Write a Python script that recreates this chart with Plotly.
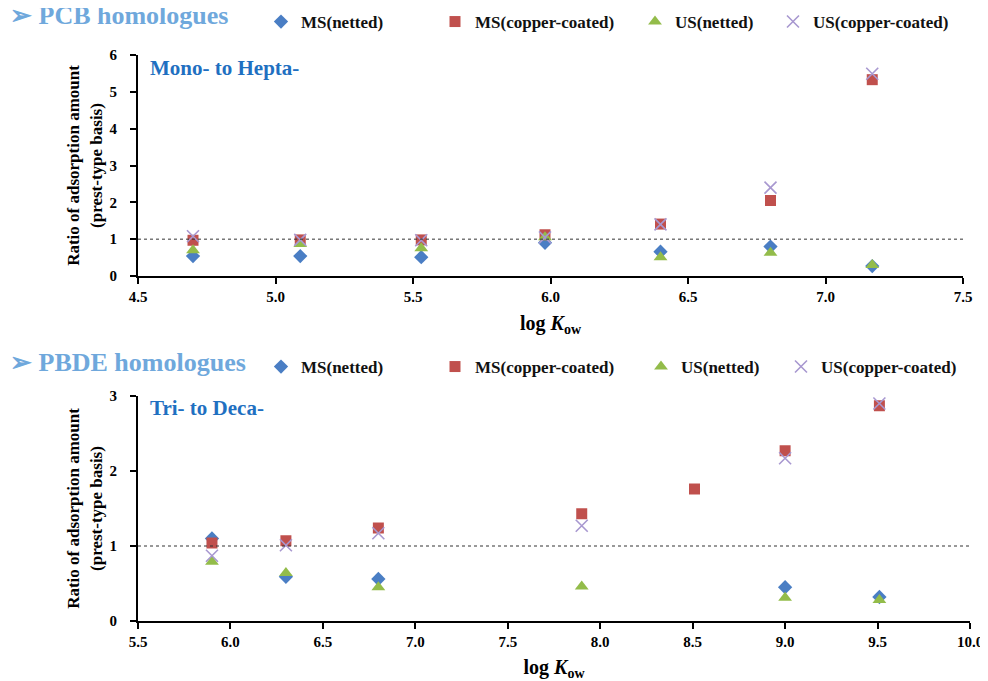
import plotly.graph_objects as go

# page body has an 8px default margin, so the figure is drawn 8px smaller and coordinates offset
OFF = 8
W, H = 988 - OFF, 681 - OFF

# ---------------- data ----------------
pcb_logkow = [4.70, 5.09, 5.53, 5.98, 6.40, 6.80, 7.17]
pcb_ms_netted = [0.54, 0.54, 0.51, 0.90, 0.66, 0.80, 0.27]
pcb_ms_copper = [0.97, 0.98, 0.98, 1.12, 1.41, 2.05, 5.33]
pcb_us_netted = [0.70, 0.87, 0.75, 1.05, 0.51, 0.63, 0.30]
pcb_us_copper = [1.08, 0.98, 0.97, 1.05, 1.40, 2.40, 5.49]

pbde_logkow = [5.90, 6.30, 6.80, 7.90, 8.51, 9.00, 9.51]
pbde_ms_netted = [1.10, 0.59, 0.56, None, None, 0.45, 0.32]
pbde_ms_copper = [1.04, 1.07, 1.24, 1.43, 1.76, 2.27, 2.87]
pbde_us_netted = [0.79, 0.64, 0.45, 0.46, None, 0.31, 0.28]
pbde_us_copper = [0.87, 1.01, 1.17, 1.27, None, 2.17, 2.90]

series_names = ["MS(netted)", "MS(copper-coated)", "US(netted)", "US(copper-coated)"]
pcb_xticks = [4.5, 5.0, 5.5, 6.0, 6.5, 7.0, 7.5]
pbde_xticks = [5.5, 6.0, 6.5, 7.0, 7.5, 8.0, 8.5, 9.0, 9.5, 10.0]

# ---------------- style ----------------
SERIF = "Liberation Serif, Times New Roman, serif"
styles = [
    dict(symbol="diamond", size=11, color="#4A7EC4"),
    dict(symbol="square", size=11, color="#C0504D"),
    dict(symbol="triangle-up", size=12, color="#93BC4A"),
    dict(symbol="x-thin-open", size=12, color="#A898D0", line=dict(width=1.6, color="#A898D0")),
]

def px_x(p):
    return (p - OFF) / W

def px_y(p):
    return 1 - (p - OFF) / H

fig = go.Figure()

top_legend_px = [283, 457, 657, 795]
bot_legend_px = [283, 457, 663, 803]

groups = [
    ("x", "y", pcb_logkow, [pcb_ms_netted, pcb_ms_copper, pcb_us_netted, pcb_us_copper], 1, top_legend_px, 22),
    ("x2", "y2", pbde_logkow, [pbde_ms_netted, pbde_ms_copper, pbde_us_netted, pbde_us_copper], 5, bot_legend_px, 367),
]

layout_legends = {}
for xa, ya, xs, ys_list, lstart, lpx, ly in groups:
    for i, (name, ys) in enumerate(zip(series_names, ys_list)):
        st = styles[i]
        mk = dict(symbol=st["symbol"], size=st["size"], color=st["color"])
        if "line" in st:
            mk["line"] = st["line"]
        lname = "legend" if (lstart + i) == 1 else f"legend{lstart + i}"
        fig.add_trace(go.Scatter(
            x=xs, y=ys, mode="markers", name=name, marker=mk,
            xaxis=xa, yaxis=ya, legend=lname, showlegend=True,
        ))
        layout_legends[lname] = dict(
            x=px_x(lpx[i] - 22), y=px_y(ly), xanchor="left", yanchor="middle",
            bgcolor="rgba(0,0,0,0)", borderwidth=0,
            font=dict(family=SERIF, size=17, color="#111111", weight="bold"),
            itemwidth=30, tracegroupgap=0,
        )

axis_common = dict(
    showline=True, linecolor="black", linewidth=2,
    ticks="outside", ticklen=6, tickwidth=2, tickcolor="black",
    showgrid=False, zeroline=False, mirror=False, automargin=False,
    tickfont=dict(family=SERIF, size=15, color="black", weight="bold"),
)

xtitle = dict(text="<b>log <i>K</i><sub>ow</sub></b>", font=dict(family=SERIF, size=20, color="black"), standoff=12)
ytitle = dict(text="<b>Ratio of adsorption amount<br>(prest-type basis)</b>",
              font=dict(family=SERIF, size=17, color="black"), standoff=3)

fig.update_layout(
    width=W, height=H,
    margin=dict(l=0, r=0, t=0, b=0, autoexpand=False),
    paper_bgcolor="white", plot_bgcolor="white",
    xaxis=dict(axis_common, domain=[px_x(138), px_x(963)], range=[4.5, 7.5],
               tickvals=pcb_xticks, ticktext=[f"{v:.1f}" for v in pcb_xticks],
               anchor="y", title=xtitle, ticklabelstandoff=0),
    yaxis=dict(axis_common, domain=[px_y(276), px_y(55)], range=[0, 6],
               tickvals=[0, 1, 2, 3, 4, 5, 6], ticktext=[f"{v}" for v in range(7)],
               anchor="x", title=ytitle, ticklabelstandoff=10),
    xaxis2=dict(axis_common, domain=[px_x(138), px_x(970)], range=[5.5, 10.0],
                tickvals=pbde_xticks, ticktext=[f"{v:.1f}" for v in pbde_xticks],
                anchor="y2", title=xtitle, ticklabelstandoff=0),
    yaxis2=dict(axis_common, domain=[px_y(621), px_y(396)], range=[0, 3],
                tickvals=[0, 1, 2, 3], ticktext=[f"{v}" for v in range(4)],
                anchor="x2", title=ytitle, ticklabelstandoff=10),
    **layout_legends,
)

# reference lines at ratio = 1
for xr, yr in [("x", "y"), ("x2", "y2")]:
    fig.add_shape(type="line", xref=f"{xr} domain", yref=yr, x0=0, x1=1, y0=1, y1=1,
                  line=dict(color="#333333", width=1, dash="dot"))

# section titles
title_color = "#6FA8DC"
fig.add_annotation(x=px_x(8), y=px_y(16), xref="paper", yref="paper", xanchor="left", yanchor="middle",
                   text="<b>➢ PCB homologues</b>", showarrow=False,
                   font=dict(family=SERIF, size=26, color=title_color))
fig.add_annotation(x=px_x(8), y=px_y(362), xref="paper", yref="paper", xanchor="left", yanchor="middle",
                   text="<b>➢ PBDE homologues</b>", showarrow=False,
                   font=dict(family=SERIF, size=26, color=title_color))

# inner labels
inner_color = "#1F70C1"
fig.add_annotation(x=px_x(148), y=px_y(68), xref="paper", yref="paper", xanchor="left", yanchor="middle",
                   text="<b>Mono- to Hepta-</b>", showarrow=False,
                   font=dict(family=SERIF, size=21, color=inner_color))
fig.add_annotation(x=px_x(148), y=px_y(408), xref="paper", yref="paper", xanchor="left", yanchor="middle",
                   text="<b>Tri- to Deca-</b>", showarrow=False,
                   font=dict(family=SERIF, size=21, color=inner_color))

fig.write_html("out.html")
